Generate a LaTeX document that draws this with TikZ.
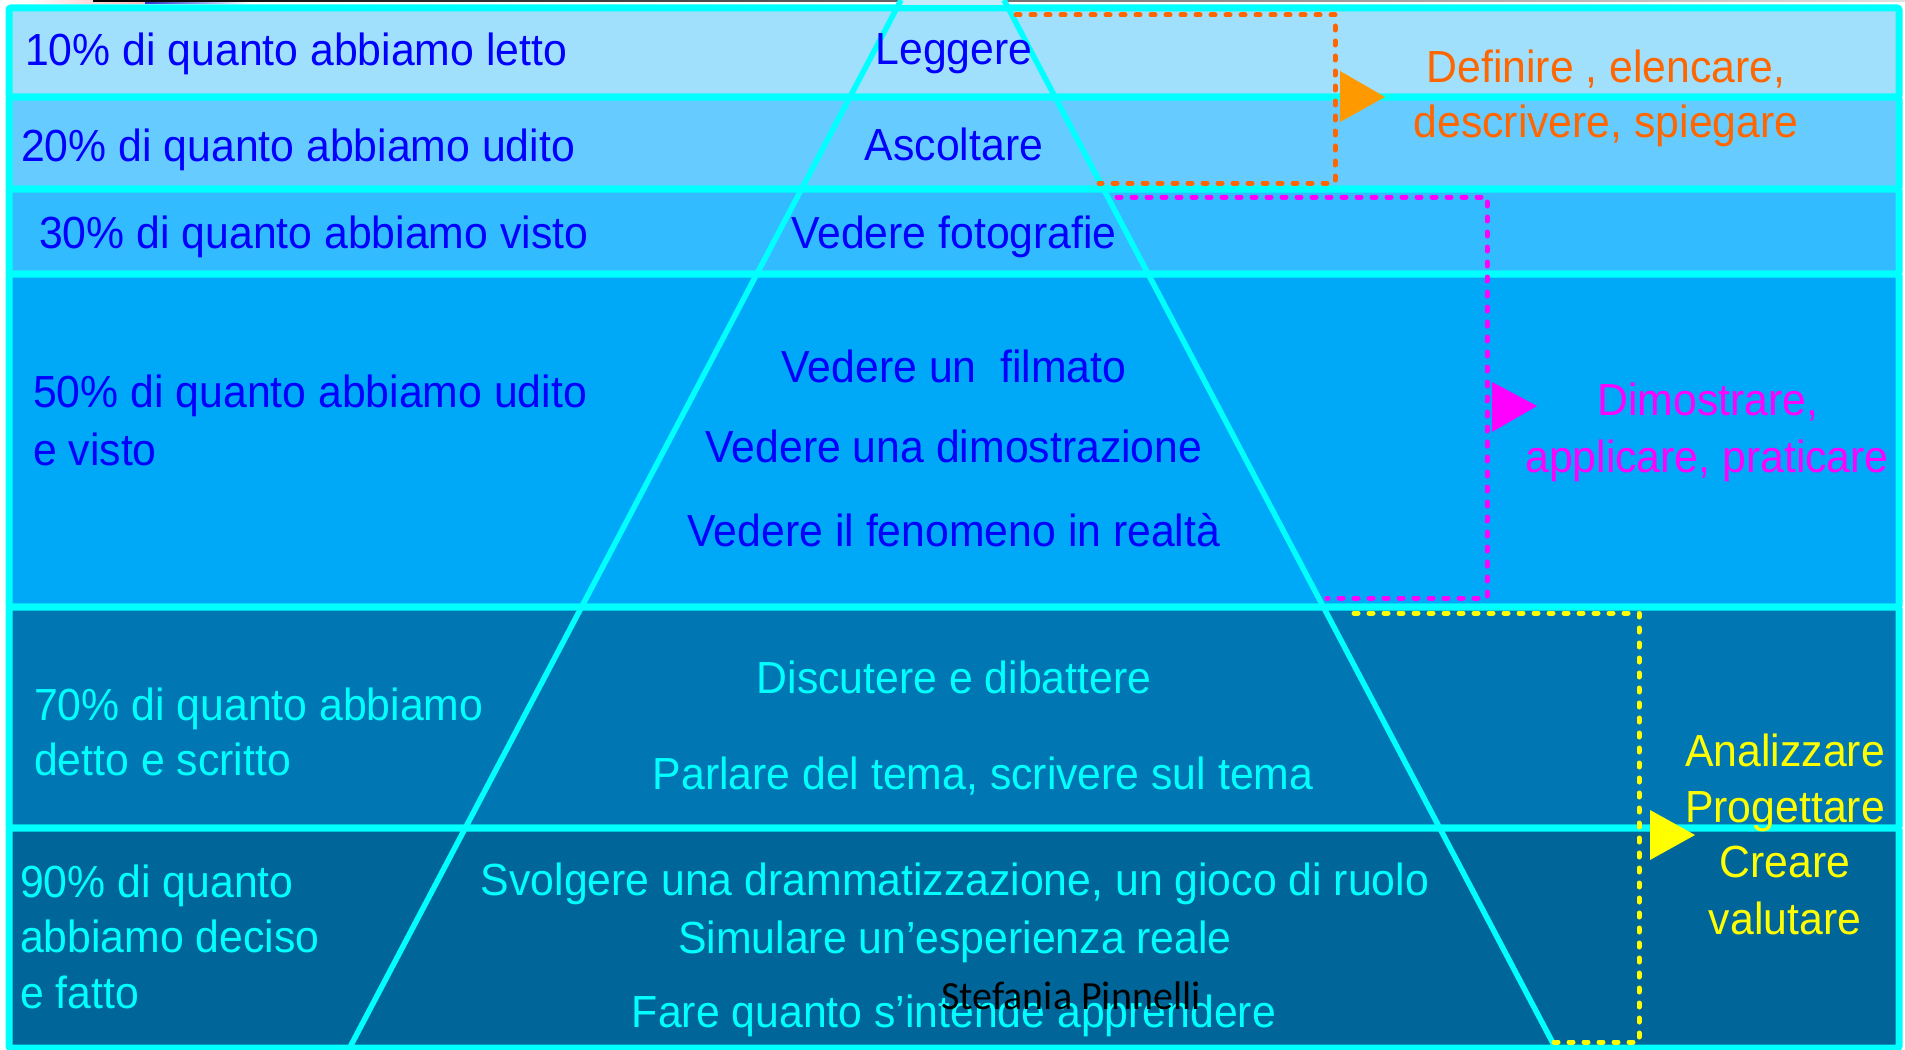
\documentclass[tikz,border=0pt]{standalone}
\usepackage{fontspec}
\setmainfont{Liberation Sans}[FakeStretch=0.95]
\newfontfamily\sigfont{Carlito}
\definecolor{rowa}{HTML}{A0E0FC}
\definecolor{rowb}{HTML}{66CCFF}
\definecolor{rowc}{HTML}{33BBFF}
\definecolor{rowd}{HTML}{00A8F8}
\definecolor{rowe}{HTML}{0077B3}
\definecolor{rowf}{HTML}{006699}
\definecolor{cyanl}{HTML}{00FFFF}
\definecolor{toppyr}{HTML}{C8EBFC}
\definecolor{txtblue}{HTML}{0000FF}
\definecolor{txtorange}{HTML}{FF6600}
\definecolor{triorange}{HTML}{FF9900}
\definecolor{txtmag}{HTML}{FF00FF}
\definecolor{txtyel}{HTML}{FFFF00}
\definecolor{pinkish}{HTML}{FFB8B8}
\definecolor{bluebar}{HTML}{3030C8}
\begin{document}
\begin{tikzpicture}[x=1pt,y=-1pt,
  rowbox/.style={draw=cyanl, line width=7pt, rounded corners=2pt},
  pyr/.style={draw=cyanl, line width=5.5pt},
  dotline/.style={line width=5pt, line cap=round, line join=round, dash pattern=on 4pt off 11pt},
  lbl/.style={inner sep=0pt, font=\fontsize{45}{54}\selectfont},
  lblL/.style={lbl, anchor=base west},
  lblC/.style={lbl, anchor=base}]
\useasboundingbox (0,0) rectangle (1905,1049);
\fill[white] (0,0) rectangle (1905,1049);
% top decoration (cropped strip)
\shade[left color=white, right color=pinkish] (25,0) rectangle (145,4);
\shade[left color=bluebar, right color=white] (145,0) rectangle (250,4);
\shade[left color=black, right color=black!12] (93,0) rectangle (1905,2);
% rows
\filldraw[rowbox, fill=rowa] (9,8) rectangle (1899,97);
\filldraw[rowbox, fill=rowb] (9,97) rectangle (1899,189);
\filldraw[rowbox, fill=rowc] (9,189) rectangle (1899,274);
\filldraw[rowbox, fill=rowd] (9,274) rectangle (1899,607);
\filldraw[rowbox, fill=rowe] (9,607) rectangle (1899,828);
\filldraw[rowbox, fill=rowf] (9,828) rectangle (1899,1048);
% pyramid
\coordinate (apexL) at (901,0);
\coordinate (apexR) at (1004,0);
\coordinate (baseL) at (349,1049);
\coordinate (baseR) at (1556,1049);
\fill[toppyr] (901,0) -- (1004,0) -- (1006,5) -- (898,5) -- cycle;
\draw[pyr] (apexL) -- (baseL);
\draw[pyr] (apexR) -- (baseR);
% dotted brackets
\coordinate (oa) at (1016,15); \coordinate (ob) at (1335,15);
\coordinate (oc) at (1335,183); \coordinate (od) at (1099,183);
\draw[dotline, draw=txtorange] (oa) -- (ob) -- (oc) -- (od);
\coordinate (ma) at (1117,197); \coordinate (mb) at (1487,197);
\coordinate (mc) at (1487,598); \coordinate (md) at (1327,598);
\draw[dotline, draw=txtmag] (ma) -- (mb) -- (mc) -- (md);
\coordinate (ya) at (1354,613); \coordinate (yb) at (1639,613);
\coordinate (yc) at (1639,1042); \coordinate (yd) at (1545,1042);
\draw[dotline, draw=txtyel] (ya) -- (yb) -- (yc) -- (yd);
% triangles
\fill[triorange] (1340,71) -- (1385,97) -- (1340,122) -- cycle;
\fill[txtmag] (1492,382) -- (1537,406) -- (1492,432) -- cycle;
\fill[txtyel] (1650,810) -- (1695,835) -- (1650,860) -- cycle;
% left labels
\node[lblL, text=txtblue] (l10) at (25,66) {10\% di quanto abbiamo letto};
\node[lblL, text=txtblue] (l20) at (21,161) {20\% di quanto abbiamo udito};
\node[lblL, text=txtblue] (l30) at (39,248) {30\% di quanto abbiamo visto};
\node[lblL, text=txtblue] (l50a) at (33,407) {50\% di quanto abbiamo udito};
\node[lblL, text=txtblue] (l50b) at (33,465) {e visto};
\node[lblL, text=cyanl] (l70a) at (34,720) {70\% di quanto abbiamo};
\node[lblL, text=cyanl] (l70b) at (34,775) {detto e scritto};
\node[lblL, text=cyanl] (l90a) at (20,897) {90\% di quanto};
\node[lblL, text=cyanl] (l90b) at (20,952) {abbiamo deciso};
\node[lblL, text=cyanl] (l90c) at (20,1008) {e fatto};
% centre labels
\node[lblC, text=txtblue] (c1) at (954,65) {Leggere};
\node[lblC, text=txtblue] (c2) at (954,160) {Ascoltare};
\node[lblC, text=txtblue] (c3) at (954,248) {Vedere fotografie};
\node[lblC, text=txtblue] (c4) at (954,382) {Vedere un\ \ filmato};
\node[lblC, text=txtblue] (c5) at (954,462) {Vedere una dimostrazione};
\node[lblC, text=txtblue] (c6) at (954,546) {Vedere il fenomeno in realtà};
\node[lblC, text=cyanl] (c7) at (954,693) {Discutere e dibattere};
\node[lblC, text=cyanl] (c8) at (983,789) {Parlare del tema, scrivere sul tema};
\node[lblC, text=cyanl] (c9) at (955,895) {Svolgere una drammatizzazione, un gioco di ruolo};
\node[lblC, text=cyanl] (c10) at (955,953) {Simulare un’esperienza reale};
\node[lblC, text=cyanl] (c11) at (954,1027) {Fare quanto s’intende apprendere};
\node[inner sep=0pt, anchor=base, font=\sigfont\fontsize{40}{48}\selectfont] (sig) at (1071,1009) {Stefania Pinnelli};
% right labels
\node[lblC, text=txtorange] (r1a) at (1606,82) {Definire , elencare,};
\node[lblC, text=txtorange] (r1b) at (1606,137) {descrivere, spiegare};
\node[lblC, text=txtmag] (r2a) at (1708,415) {Dimostrare,};
\node[lblC, text=txtmag] (r2b) at (1707,472) {applicare, praticare};
\node[lblC, text=txtyel] (r3a) at (1785,766) {Analizzare};
\node[lblC, text=txtyel] (r3b) at (1785,822) {Progettare};
\node[lblC, text=txtyel] (r3c) at (1785,877) {Creare};
\node[lblC, text=txtyel] (r3d) at (1785,934) {valutare};
\end{tikzpicture}
\end{document}
